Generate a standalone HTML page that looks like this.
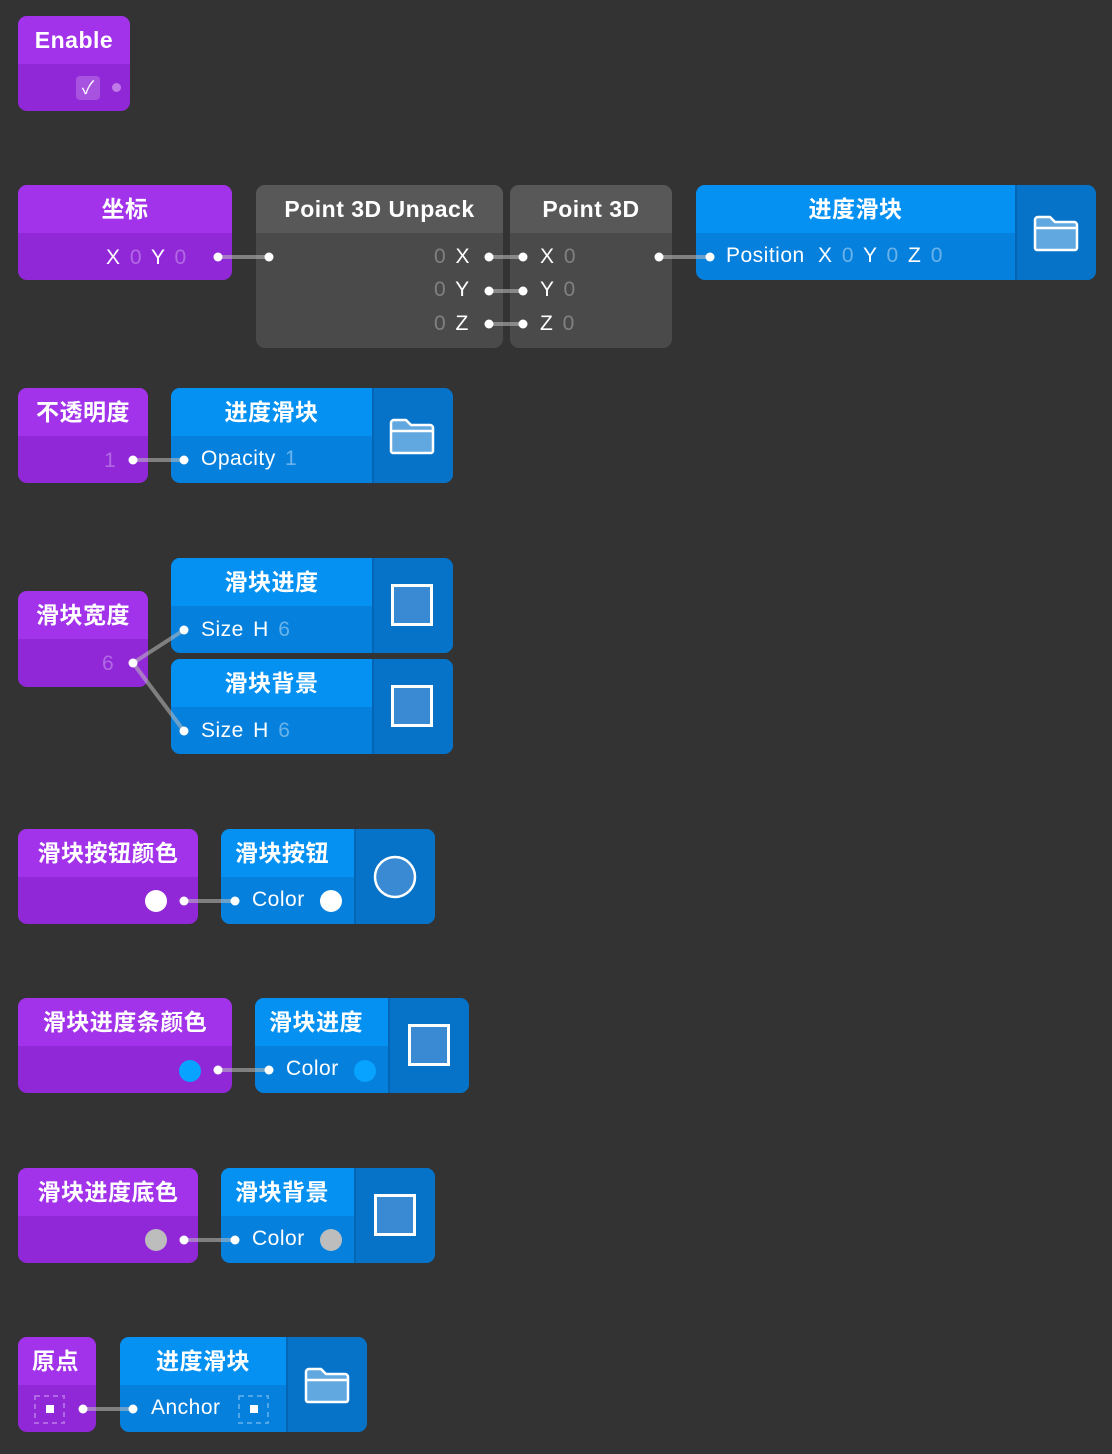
<!DOCTYPE html>
<html><head><meta charset="utf-8">
<style>
html,body{margin:0;padding:0;}
body{width:1112px;height:1454px;background:#333333;position:relative;overflow:hidden;font-family:"Liberation Sans","Noto Sans CJK SC",sans-serif;color:#fff;}
.n{position:absolute;border-radius:9px;overflow:hidden;}
.p{background:#9128d8;}
.p .h{background:#a233ea;}
.b{background:#0580dd;}
.b .h{background:#0591f2;}
.g{background:#4a4a4a;}
.g .h{background:#585858;}
.h{position:absolute;left:0;top:0;right:0;height:48px;font-size:23px;font-weight:bold;text-align:center;line-height:48px;letter-spacing:0.5px;}
.pan{position:absolute;top:0;bottom:0;right:0;background:#0673c9;border-left:2px solid #0565b5;}
.t{position:absolute;font-size:21px;line-height:24px;white-space:nowrap;letter-spacing:0.5px;word-spacing:3px;}
.dim{color:rgba(255,255,255,0.3);}
.bd{color:rgba(255,255,255,0.4);}
.sq{position:absolute;width:36px;height:36px;border:3px solid #fff;background:#3a8ad3;}
svg{position:absolute;left:0;top:0;}
</style></head><body>

<div class="n p" style="left:18px;top:16px;width:112px;height:95px">
  <div class="h">Enable</div>
  <div style="position:absolute;left:58px;top:60px;width:24px;height:24px;border-radius:4px;background:rgba(255,255,255,0.2);font-size:18px;line-height:24px;text-align:center">✓</div>
  <div style="position:absolute;left:94px;top:67px;width:9px;height:9px;border-radius:50%;background:#c07ae8"></div>
</div>

<div class="n p" style="left:18px;top:185px;width:214px;height:95px">
  <div class="h">坐标</div>
  <div class="t" style="left:88px;top:61px">X <span class="dim">0</span> Y <span class="dim">0</span></div>
</div>

<div class="n g" style="left:256px;top:185px;width:247px;height:163px">
  <div class="h">Point 3D Unpack</div>
  <div class="t" style="left:178px;top:60px"><span class="dim">0</span> X</div>
  <div class="t" style="left:178px;top:93px"><span class="dim">0</span> Y</div>
  <div class="t" style="left:178px;top:127px"><span class="dim">0</span> Z</div>
</div>

<div class="n g" style="left:510px;top:185px;width:162px;height:163px">
  <div class="h">Point 3D</div>
  <div class="t" style="left:30px;top:60px">X <span class="dim">0</span></div>
  <div class="t" style="left:30px;top:93px">Y <span class="dim">0</span></div>
  <div class="t" style="left:30px;top:127px">Z <span class="dim">0</span></div>
</div>

<div class="n b" style="left:696px;top:185px;width:400px;height:95px">
  <div class="h" style="right:81px">进度滑块</div>
  <div class="pan" style="width:79px"></div>
  <div class="t" style="left:30px;top:59px">Position <span style="margin-left:4px">X</span> <span class="bd">0</span> Y <span class="bd">0</span> Z <span class="bd">0</span></div>
</div>

<div class="n p" style="left:18px;top:388px;width:130px;height:95px">
  <div class="h">不透明度</div>
  <div class="t dim" style="left:86px;top:61px">1</div>
</div>
<div class="n b" style="left:171px;top:388px;width:282px;height:95px">
  <div class="h" style="right:81px">进度滑块</div>
  <div class="pan" style="width:79px"></div>
  <div class="t" style="left:30px;top:59px">Opacity <span class="bd">1</span></div>
</div>

<div class="n p" style="left:18px;top:591px;width:130px;height:96px">
  <div class="h">滑块宽度</div>
  <div class="t dim" style="left:84px;top:61px">6</div>
</div>
<div class="n b" style="left:171px;top:558px;width:282px;height:95px">
  <div class="h" style="right:81px">滑块进度</div>
  <div class="pan" style="width:79px"></div>
  <div class="t" style="left:30px;top:60px">Size H <span class="bd">6</span></div>
</div>
<div class="n b" style="left:171px;top:659px;width:282px;height:95px">
  <div class="h" style="right:81px">滑块背景</div>
  <div class="pan" style="width:79px"></div>
  <div class="t" style="left:30px;top:60px">Size H <span class="bd">6</span></div>
</div>

<div class="n p" style="left:18px;top:829px;width:180px;height:95px">
  <div class="h">滑块按钮颜色</div>
</div>
<div class="n b" style="left:221px;top:829px;width:214px;height:95px">
  <div class="h" style="right:81px;text-align:left;padding-left:14px">滑块按钮</div>
  <div class="pan" style="width:79px"></div>
  <div class="t" style="left:31px;top:59px">Color</div>
</div>

<div class="n p" style="left:18px;top:998px;width:214px;height:95px">
  <div class="h">滑块进度条颜色</div>
</div>
<div class="n b" style="left:255px;top:998px;width:214px;height:95px">
  <div class="h" style="right:81px;text-align:left;padding-left:14px">滑块进度</div>
  <div class="pan" style="width:79px"></div>
  <div class="t" style="left:31px;top:59px">Color</div>
</div>

<div class="n p" style="left:18px;top:1168px;width:180px;height:95px">
  <div class="h">滑块进度底色</div>
</div>
<div class="n b" style="left:221px;top:1168px;width:214px;height:95px">
  <div class="h" style="right:81px;text-align:left;padding-left:14px">滑块背景</div>
  <div class="pan" style="width:79px"></div>
  <div class="t" style="left:31px;top:59px">Color</div>
</div>

<div class="n p" style="left:18px;top:1337px;width:78px;height:95px">
  <div class="h" style="text-align:left;padding-left:14px">原点</div>
</div>
<div class="n b" style="left:120px;top:1337px;width:247px;height:95px">
  <div class="h" style="right:81px">进度滑块</div>
  <div class="pan" style="width:79px"></div>
  <div class="t" style="left:31px;top:59px">Anchor</div>
</div>

<div class="sq" style="left:391px;top:584px"></div>
<div class="sq" style="left:391px;top:685px"></div>
<div class="sq" style="left:408px;top:1024px"></div>
<div class="sq" style="left:374px;top:1194px"></div>

<svg width="1112" height="1454" viewBox="0 0 1112 1454">
  <g fill="#62a8e0" stroke="#fff" stroke-width="2.5" stroke-linejoin="round">
    <path d="M1035 248 V220 a3 3 0 0 1 3-3 h12 l5 5 h19 a3 3 0 0 1 3 3 V248 a2 2 0 0 1-2 2 H1037 a2 2 0 0 1-2-2Z"/>
    <path d="M1035 228 H1077" fill="none"/>
    <path d="M391 451 V423 a3 3 0 0 1 3-3 h12 l5 5 h19 a3 3 0 0 1 3 3 V451 a2 2 0 0 1-2 2 H393 a2 2 0 0 1-2-2Z"/>
    <path d="M391 431 H433" fill="none"/>
    <path d="M306 1400 V1372 a3 3 0 0 1 3-3 h12 l5 5 h19 a3 3 0 0 1 3 3 V1400 a2 2 0 0 1-2 2 H308 a2 2 0 0 1-2-2Z"/>
    <path d="M306 1380 H348" fill="none"/>
  </g>
  <circle cx="395" cy="877" r="20" fill="#3a8ad3" stroke="#fff" stroke-width="2.5"/>
  <g stroke="rgba(190,190,190,0.55)" stroke-width="4" fill="none">
    <line x1="218" y1="257" x2="269" y2="257"/>
    <line x1="489" y1="257" x2="523" y2="257"/>
    <line x1="489" y1="291" x2="523" y2="291"/>
    <line x1="489" y1="324" x2="523" y2="324"/>
    <line x1="659" y1="257" x2="710" y2="257"/>
    <line x1="133" y1="460" x2="184" y2="460"/>
    <line x1="133" y1="663" x2="184" y2="630"/>
    <line x1="133" y1="663" x2="184" y2="731"/>
    <line x1="184" y1="901" x2="235" y2="901"/>
    <line x1="218" y1="1070" x2="269" y2="1070"/>
    <line x1="184" y1="1240" x2="235" y2="1240"/>
    <line x1="83" y1="1409" x2="133" y2="1409"/>
  </g>
  <g fill="#fff">
    <circle cx="218" cy="257" r="4.5"/><circle cx="269" cy="257" r="4.5"/>
    <circle cx="489" cy="257" r="4.5"/><circle cx="523" cy="257" r="4.5"/>
    <circle cx="489" cy="291" r="4.5"/><circle cx="523" cy="291" r="4.5"/>
    <circle cx="489" cy="324" r="4.5"/><circle cx="523" cy="324" r="4.5"/>
    <circle cx="659" cy="257" r="4.5"/><circle cx="710" cy="257" r="4.5"/>
    <circle cx="133" cy="460" r="4.5"/><circle cx="184" cy="460" r="4.5"/>
    <circle cx="133" cy="663" r="4.5"/><circle cx="184" cy="630" r="4.5"/><circle cx="184" cy="731" r="4.5"/>
    <circle cx="184" cy="901" r="4.5"/><circle cx="235" cy="901" r="4.5"/>
    <circle cx="218" cy="1070" r="4.5"/><circle cx="269" cy="1070" r="4.5"/>
    <circle cx="184" cy="1240" r="4.5"/><circle cx="235" cy="1240" r="4.5"/>
    <circle cx="83" cy="1409" r="4.5"/><circle cx="133" cy="1409" r="4.5"/>
  </g>
  <circle cx="156" cy="901" r="11" fill="#fff"/>
  <circle cx="331" cy="901" r="11" fill="#fff"/>
  <circle cx="190" cy="1071" r="11" fill="#08a2ff"/>
  <circle cx="365" cy="1071" r="11" fill="#08a2ff"/>
  <circle cx="156" cy="1240" r="11" fill="#bdbdbd"/>
  <circle cx="331" cy="1240" r="11" fill="#bdbdbd"/>
  <g fill="none" stroke="rgba(255,255,255,0.3)" stroke-width="2" stroke-dasharray="5,4">
    <rect x="35" y="1396" width="29" height="27"/>
    <rect x="239" y="1396" width="29" height="27"/>
  </g>
  <rect x="46" y="1405" width="8" height="8" fill="#fff"/>
  <rect x="250" y="1405" width="8" height="8" fill="#fff"/>
</svg>
</body></html>
